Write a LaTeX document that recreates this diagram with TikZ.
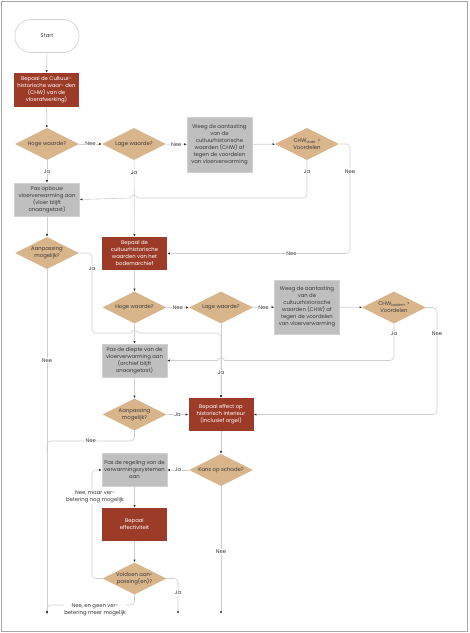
\documentclass[tikz,border=0pt]{standalone}
\usepackage{fontspec}
\setmainfont{Poppins}
\usetikzlibrary{shapes.geometric,arrows.meta}
\definecolor{redbox}{HTML}{9C3B28}
\definecolor{tanc}{HTML}{D9B58C}
\definecolor{greybox}{HTML}{BFBFBF}
\definecolor{connc}{HTML}{CFCFCF}
\definecolor{txt}{HTML}{3A3A3A}
\begin{document}
\begin{tikzpicture}[x=1pt,y=-1pt,
  every node/.style={font=\fontsize{5.3}{7}\selectfont, align=center, inner sep=0pt},
  term/.style={draw=connc, fill=white, rounded corners=16pt, minimum width=64pt, minimum height=33pt, text=txt, line width=0.6pt},
  redb/.style={fill=redbox, minimum width=65pt, minimum height=33pt, text=white},
  greyb/.style={fill=greybox, draw=black!18, minimum width=65pt, minimum height=33pt, text=txt},
  dec/.style={diamond, fill=tanc, minimum width=64pt, minimum height=32pt, aspect=2, text=txt},
  lbl/.style={fill=white, inner sep=0.8pt, text=txt},
  conn/.style={draw=connc, line width=0.6pt, -{Latex[length=2.6pt,width=2.2pt,color=black!80]}},
  plain/.style={draw=connc, line width=0.6pt}
]
\useasboundingbox (0,0) rectangle (470,633);
\draw[black!35, line width=0.8pt] (1.5,1.5) rectangle (467,631);

% nodes
\node[term] (start) at (47,36) {Start};
\node[redb, minimum height=34pt] (cult) at (46.5,90) {Bepaal de Cultuur-\\historische waar- den\\(CHW) van de\\vloerafwerking)};
\node[dec] (hoge1) at (47,144) {Hoge waarde?};
\node[dec] (lage1) at (134,144) {Lage waarde?};
\node[greyb, minimum height=55pt] (weeg1) at (219.5,144.5) {Weeg de aantasting\\van de\\cultuurhistorische\\waarden (CHW) af\\tegen de voordelen\\van vloerverwarming};
\node[dec] (chw1) at (307,144) {CHW\textsubscript{vloer} >\\Voordelen};
\node[greyb] (pasop) at (47,199.5) {Pas opbouw\\vloerverwarming aan\\(vloer blijft\\onaangetast)};
\node[dec] (aan1) at (47,253) {Aanpassing\\mogelijk?};
\node[redb] (bodem) at (134.5,253.5) {Bepaal de\\cultuurhistorische\\waarden van het\\bodemarchief};
\node[dec] (hoge2) at (134.5,307.5) {Hoge waarde?};
\node[dec] (lage2) at (221,307.5) {Lage waarde?};
\node[greyb, minimum height=54pt] (weeg2) at (307,307) {Weeg de aantasting\\van de\\cultuurhistorische\\waarden (CHW) af\\tegen de voordelen\\van vloerverwarming};
\node[dec] (chw2) at (394,307.5) {CHW\textsubscript{bodem} >\\Voordelen};
\node[greyb] (diepte) at (134.5,360.5) {Pas de diepte van de\\vloerverwarming aan\\(archief blijft\\onaangetast)};
\node[dec] (aan2) at (134.5,414.5) {Aanpassing\\mogelijk?};
\node[redb] (effect) at (221,414.5) {Bepaal effect op\\historisch interieur\\(inclusief orgel)};
\node[dec] (kans) at (221,470) {Kans op schade?};
\node[greyb] (regel) at (134.5,470) {Pas de regeling van de\\verwarmingssystemen\\aan};
\node[redb] (effv) at (134.5,524.5) {Bepaal\\effectiviteit};
\node[dec] (vold) at (134.5,578.5) {Voldoen aan-\\passing(en)?};

\coordinate (e1) at (47,614);
\coordinate (e2) at (178,614);
\coordinate (e3) at (221,614);

% connectors
\draw[conn] (start) -- (cult);
\draw[conn] (cult) -- (hoge1);
\draw[conn] (hoge1) -- node[lbl]{Nee} (lage1);
\draw[conn] (lage1) -- node[lbl]{Nee} (weeg1);
\draw[conn] (weeg1) -- (chw1);
\draw[conn] (hoge1) -- node[lbl]{Ja} (pasop);
\draw[conn] (chw1.south) [rounded corners=4pt] -- node[lbl,pos=0.3]{Ja} (307,198) -- (145,198) [sharp corners] -- (137.5,198) .. controls (137.5,194.5) and (130.5,194.5) .. (130.5,198) -- (pasop.east);
\draw[conn] (lage1) -- node[lbl,pos=0.16]{Ja} (bodem);
\draw[conn, rounded corners=4pt] (chw1.east) -- (350,144) -- node[lbl,pos=0.25]{Nee} (350,253.5) -- node[lbl,pos=0.32]{Nee} (bodem.east);
\draw[conn] (pasop) -- (aan1);
\draw[conn] (aan1) -- node[lbl,pos=0.264]{Nee} (e1);
\draw[conn] (aan1.east) [rounded corners=4pt] -- (92,253) -- node[lbl,pos=0.19]{Ja} (92,333) -- (124,333) [sharp corners] -- (131,333) .. controls (131,329.5) and (138,329.5) .. (138,333) -- (150,333) [rounded corners=4pt] -- (221,333) -- (effect.north);

\draw[conn] (bodem) -- (hoge2);
\draw[conn] (hoge2) -- node[lbl]{Nee} (lage2);
\draw[conn] (lage2) -- node[lbl]{Nee} (weeg2);
\draw[conn] (weeg2) -- (chw2);
\draw[conn] (hoge2) -- (diepte);
\draw[conn] (lage2) -- node[lbl,pos=0.66]{Ja} (effect);
\draw[conn] (chw2.south) [rounded corners=4pt] -- node[lbl,pos=0.26]{Ja} (394,360.5) -- (232,360.5) [sharp corners] -- (224.5,360.5) .. controls (224.5,357) and (217.5,357) .. (217.5,360.5) -- (diepte.east);
\draw[conn, rounded corners=4pt] (chw2.east) -- (437,307.5) -- node[lbl,pos=0.24]{Nee} (437,414.5) -- (effect.east);
\draw[conn] (diepte) -- (aan2);
\draw[conn] (aan2) -- node[lbl]{Ja} (effect);
\draw[plain, rounded corners=4pt] (aan2.south) -- (134.5,441) -- node[lbl]{Nee} (47,441) -- (47,452);

\draw[conn] (effect) -- (kans);
\draw[conn] (kans) -- node[lbl]{Ja} (regel);
\draw[conn] (kans) -- node[lbl,pos=0.515]{Nee} (e3);
\draw[conn] (regel) -- (effv);
\draw[conn] (effv) -- (vold);
\draw[conn, rounded corners=4pt] (vold.west) -- (92,578.5) -- node[lbl,pos=0.75,xshift=3pt]{Nee, maar ver-\\betering nog mogelijk} (92,470) -- (regel.west);
\draw[conn, rounded corners=4pt] (vold.east) -- (178,578.5) -- node[lbl,pos=0.41]{Ja} (e2);
\draw[conn, rounded corners=4pt] (vold.south) -- (134.5,605) -- node[lbl,pos=0.45,yshift=-4.5pt]{Nee, en geen ver-\\betering meer mogelijk} (47,605) -- (e1);
\end{tikzpicture}
\end{document}
